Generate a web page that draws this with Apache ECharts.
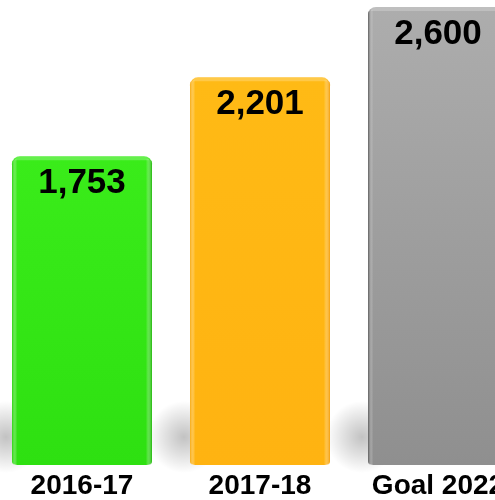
<!DOCTYPE html>
<html>
<head>
<meta charset="utf-8">
<script src="https://cdn.jsdelivr.net/npm/echarts@6/dist/echarts.min.js"></script>
<style>
  html, body { margin: 0; padding: 0; background: #ffffff; overflow: hidden; width: 495px; height: 500px; }
  /* The plot is wider than the page so the last bar runs off the right side */
  #chart { width: 534px; height: 500px; margin-left: -7px; }
</style>
</head>
<body>
<div id="chart"></div>
<script>
// Enrollment totals by period, with the goal bar last
const categories = ['2016-17', '2017-18', 'Goal 2022'];
const values = [1753, 2201, 2600];

// Bar body colours, top to bottom
const bodyTop = ['#3aec1a', '#ffba15', '#adadad'];
const bodyBottom = ['#2ee011', '#ffb311', '#8f8f8f'];
// Bevel strip colours on the left and right sides of each bar
const edgeLeft = ['#2bd40e', '#f8aa10', '#5c5c5c'];
const edgeRight = ['#22b80c', '#f59e08', '#8a8a8a'];

const BAR_W = 140;
const chart = echarts.init(document.getElementById('chart'), null, { renderer: 'canvas' });

// Soft floor shadow cast to the left of each bar foot
function renderShadow(params, api) {
  const foot = api.coord([api.value(0), 0]);
  const left = foot[0] - BAR_W / 2;
  return {
    type: 'ellipse',
    shape: { cx: left - 6, cy: foot[1] - 28, rx: 48, ry: 36 },
    style: {
      fill: new echarts.graphic.RadialGradient(0.5, 0.5, 0.5, [
        { offset: 0, color: 'rgba(0,0,0,0.24)' },
        { offset: 0.5, color: 'rgba(0,0,0,0.12)' },
        { offset: 1, color: 'rgba(0,0,0,0)' }
      ])
    },
    silent: true
  };
}

// Darker bevel strips along the sides of each bar
function renderEdges(params, api) {
  const i = params.dataIndex;
  const top = api.coord([api.value(0), api.value(1)]);
  const foot = api.coord([api.value(0), 0]);
  const left = top[0] - BAR_W / 2;
  const h = foot[1] - top[1];
  return {
    type: 'group',
    children: [
      {
        type: 'rect',
        shape: { x: left, y: top[1] + 3, width: 5, height: h - 3, r: [4, 0, 0, 4] },
        style: {
          fill: new echarts.graphic.LinearGradient(0, 0, 1, 0, [
            { offset: 0, color: edgeLeft[i] },
            { offset: 1, color: 'rgba(255,255,255,0)' }
          ])
        }
      },
      {
        type: 'rect',
        shape: { x: left + BAR_W - 6, y: top[1] + 3, width: 6, height: h - 3, r: [0, 4, 4, 0] },
        style: {
          fill: new echarts.graphic.LinearGradient(0, 0, 1, 0, [
            { offset: 0, color: 'rgba(255,255,255,0)' },
            { offset: 1, color: edgeRight[i] }
          ])
        }
      },
      {
        type: 'rect',
        shape: { x: left + 3, y: top[1], width: BAR_W - 6, height: 4, r: [4, 4, 0, 0] },
        style: { fill: 'rgba(255,255,255,0.22)' }
      }
    ],
    silent: true
  };
}

const indexed = values.map((v, i) => [i, v]);

chart.setOption({
  animation: false,
  backgroundColor: '#ffffff',
  grid: { left: 0, right: 0, top: 7, bottom: 32, containLabel: false },
  xAxis: {
    type: 'category',
    data: categories,
    axisLine: { show: false },
    axisTick: { show: false },
    axisLabel: {
      color: '#000000',
      fontFamily: 'Liberation Sans, Arial, sans-serif',
      fontWeight: 'bold',
      fontSize: 28,
      margin: 7
    }
  },
  yAxis: {
    type: 'value',
    min: 0,
    max: 2600,
    show: false,
    splitLine: { show: false }
  },
  series: [
    {
      type: 'custom',
      z: 1,
      renderItem: renderShadow,
      data: indexed,
      encode: { x: 0, y: 1 }
    },
    {
      type: 'bar',
      z: 2,
      barWidth: BAR_W,
      data: values.map((v, i) => ({
        value: v,
        itemStyle: {
          color: new echarts.graphic.LinearGradient(0, 0, 0, 1, [
            { offset: 0, color: bodyTop[i] },
            { offset: 1, color: bodyBottom[i] }
          ]),
          borderRadius: [8, 8, 5, 5]
        }
      })),
      label: {
        show: true,
        position: 'insideTop',
        distance: 10,
        color: '#000000',
        fontFamily: 'Liberation Sans, Arial, sans-serif',
        fontWeight: 'bold',
        fontSize: 35,
        formatter: p => p.value.toLocaleString('en-US')
      }
    },
    {
      type: 'custom',
      z: 3,
      renderItem: renderEdges,
      data: indexed,
      encode: { x: 0, y: 1 }
    }
  ]
});
</script>
</body>
</html>
